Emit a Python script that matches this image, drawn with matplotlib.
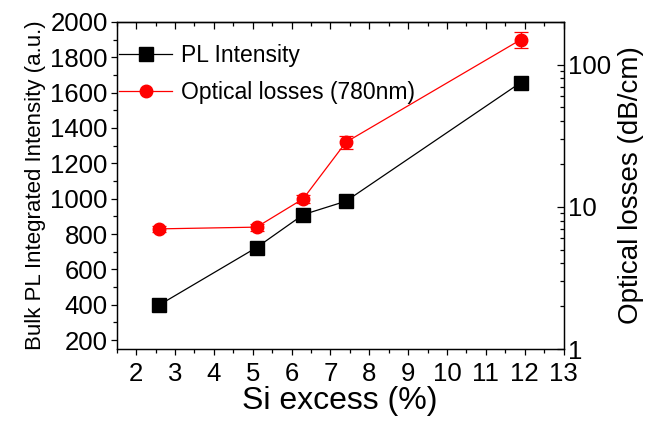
import numpy as np
from matplotlib import pyplot as plt
from matplotlib.ticker import MultipleLocator, LogLocator, NullFormatter, FixedLocator

si_excess = [2.6, 5.1, 6.3, 7.4, 11.9]
pl_intensity = [400, 724, 910, 986, 1657]
optical_losses = [7.0, 7.2, 11.4, 28.5, 150]
losses_err = [0.3, 0.4, 0.8, 3.0, 20.0]

plt.rcParams['font.family'] = ['Liberation Sans', 'DejaVu Sans']

fig = plt.figure(figsize=(6.56, 4.21), dpi=100)
ax = fig.add_axes([0.178, 0.171, 0.681, 0.777])
ax2 = ax.twinx()

pl_line, = ax.plot(si_excess, pl_intensity, color='black', lw=0.9, marker='s', ms=10,
                   label='PL Intensity', zorder=3)
loss_bars = ax2.errorbar(si_excess, optical_losses, yerr=losses_err, color='red', lw=0.9,
                         marker='o', ms=9, capsize=5, elinewidth=0.9, capthick=0.9,
                         label='Optical losses (780nm)')

ax.set_xlim(1.5, 13)
ax.set_ylim(150, 2000)
ax2.set_yscale('log')
ax2.set_ylim(1, 200)

ax.xaxis.set_major_locator(MultipleLocator(1))
ax.xaxis.set_minor_locator(MultipleLocator(0.5))
ax.yaxis.set_major_locator(FixedLocator(np.arange(200, 2001, 200)))
ax.yaxis.set_minor_locator(MultipleLocator(100))
ax.set_xticks(range(2, 14))

ax2.yaxis.set_major_locator(LogLocator(base=10))
ax2.yaxis.set_minor_locator(LogLocator(base=10, subs=np.arange(2, 10)))
ax2.yaxis.set_minor_formatter(NullFormatter())
ax2.set_yticks([1, 10, 100])
ax2.set_yticklabels(['1', '10', '100'])

# bottom/left ticks point out, top/right point in
ax.tick_params(axis='both', which='major', labelsize=18.5, length=4.5, width=0.9, direction='out')
ax.tick_params(axis='both', which='minor', length=2.8, width=0.9, direction='out')
ax.tick_params(axis='x', pad=5)
ax.tick_params(axis='y', pad=2)
ax2.tick_params(axis='y', which='major', labelsize=18.5, length=5, width=0.9, direction='in')
ax2.tick_params(axis='y', which='minor', length=3, width=0.9, direction='in')

top = ax.secondary_xaxis('top')
top.set_xticks(range(2, 14))
top.xaxis.set_minor_locator(MultipleLocator(0.5))
top.tick_params(which='major', direction='in', length=5, width=0.9, labeltop=False)
top.tick_params(which='minor', direction='in', length=3, width=0.9)
top.spines['top'].set_linewidth(0.9)

for a in (ax, ax2):
    for s in a.spines.values():
        s.set_linewidth(0.9)

ax.set_xlabel('Si excess (%)', fontsize=23, labelpad=0)
ax.set_ylabel('Bulk PL Integrated Intensity (a.u.)', fontsize=16, labelpad=3)
ax2.set_ylabel('Optical losses (dB/cm)', fontsize=20, labelpad=5)

# legend shows plain line + marker for the loss series (no error bar glyph)
ax2.legend([pl_line, loss_bars.lines[0]], ['PL Intensity', 'Optical losses (780nm)'],
           loc='upper left', bbox_to_anchor=(-0.025, 0.975),
           frameon=False, fontsize=16.5, handlelength=2.3, handletextpad=0.4,
           labelspacing=0.62, borderaxespad=0.2)

fig.savefig('out.png', dpi=100)
